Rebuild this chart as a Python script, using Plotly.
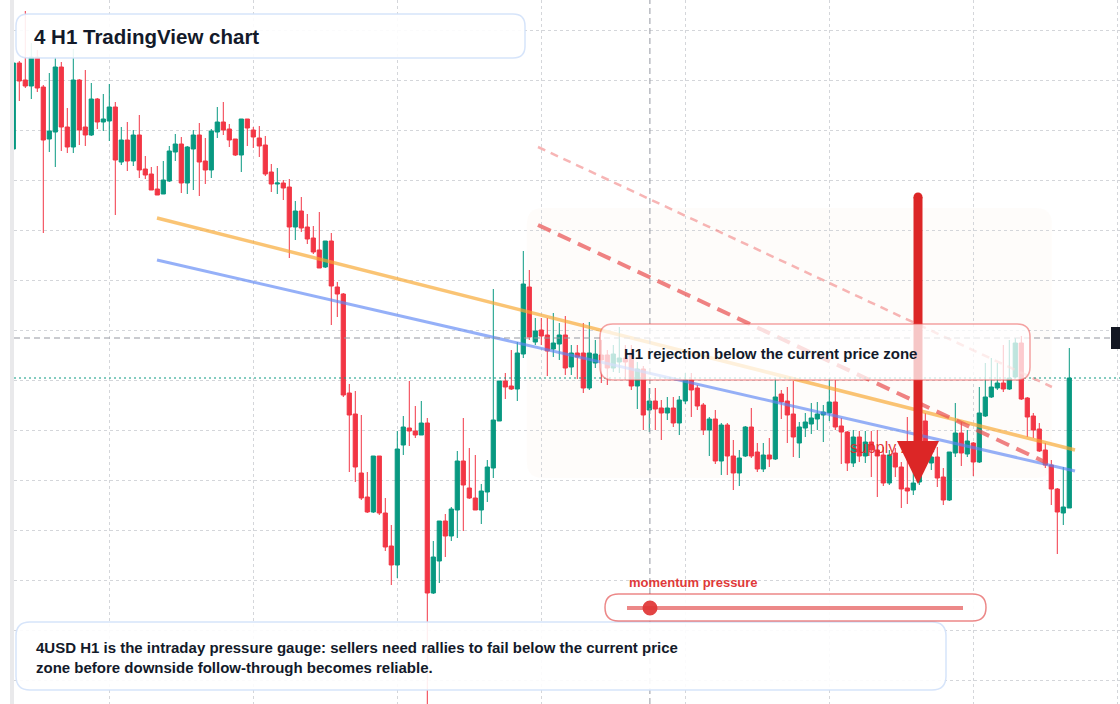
import plotly.graph_objects as go

W, H = 1120, 704
ML = 14

# ---------------- data (H1 candles, price units) ----------------
opens = [
    4046.2, 4063.4, 4060.0, 4058.8, 4064.6, 4058.6, 4048.2, 4049.6, 4062.6, 4050.6,
    4046.6, 4060.0, 4050.6, 4049.0, 4056.2, 4051.6, 4051.8, 4054.6, 4043.6, 4048.0,
    4043.8, 4049.0, 4042.2, 4041.2, 4038.2, 4037.2, 4039.8, 4045.6, 4047.2, 4039.4,
    4046.2, 4049.0, 4043.8, 4042.0, 4049.6, 4051.6, 4050.2, 4048.2, 4045.0, 4052.2,
    4050.0, 4048.4, 4047.0, 4041.6, 4039.2, 4039.4, 4038.6, 4030.6, 4033.8, 4030.6,
    4028.4, 4026.0, 4022.6, 4027.8, 4018.6, 4017.2, 3997.4, 3993.2, 3981.4, 3976.6,
    3973.6, 3984.8, 3973.4, 3966.8, 3963.0, 3987.0, 3990.4, 3989.8, 3989.0, 3991.4,
    3957.4, 3963.8, 3971.8, 3968.8, 3974.0, 3983.8, 3978.4, 3976.4, 3974.0, 3977.6,
    3982.4, 3991.8, 3999.8, 3998.8, 3998.2, 4005.2, 4018.6, 4007.6, 4010.0, 4009.0,
    4006.2, 4007.2, 4009.0, 4002.6, 4005.4, 4005.4, 3998.4, 4003.4, 4005.0, 4005.0,
    4002.4, 4003.6, 4004.4, 4005.4, 3998.8, 4002.2, 3994.0, 3995.8, 3994.4, 3993.4,
    3994.4, 3991.4, 3995.8, 4000.0, 3998.4, 3995.0, 3990.0, 3992.2, 3983.8, 3991.0,
    3984.8, 3981.4, 3984.8, 3990.6, 3985.6, 3982.2, 3985.0, 3984.2, 3997.2, 3995.8,
    3993.2, 3987.4, 3990.4, 3991.2, 3992.2, 3993.0, 3993.4, 3995.6, 3990.8, 3989.6,
    3983.4, 3988.6, 3984.8, 3987.6, 3986.0, 3985.0, 3979.4, 3985.4, 3982.6, 3978.4,
    3978.0, 3979.6, 3991.8, 3983.4, 3984.6, 3980.6, 3976.0, 3985.4, 3989.4, 3985.2,
    3987.4, 3983.6, 3992.8, 3996.6, 3998.4, 3999.4, 3998.2, 4000.6, 4007.4, 3996.4,
    3992.8, 3990.2, 3986.0, 3983.0, 3978.2, 3973.4, 3974.4,
]
highs = [
    4064.4, 4063.8, 4073.8, 4067.4, 4066.0, 4059.0, 4061.4, 4064.6, 4063.6, 4054.4,
    4066.2, 4060.2, 4062.0, 4059.4, 4056.4, 4057.2, 4059.2, 4055.6, 4050.6, 4051.6,
    4050.0, 4053.0, 4044.8, 4042.6, 4042.8, 4043.8, 4046.8, 4049.2, 4048.6, 4046.8,
    4050.0, 4051.4, 4048.4, 4050.2, 4054.6, 4055.6, 4051.2, 4048.2, 4052.2, 4052.2,
    4050.6, 4050.8, 4048.8, 4043.2, 4042.4, 4040.0, 4040.2, 4035.8, 4036.6, 4033.2,
    4030.8, 4033.6, 4027.8, 4029.4, 4019.6, 4017.4, 3999.2, 3997.8, 3993.0, 3981.6,
    3984.8, 3984.8, 3976.4, 3971.0, 3989.8, 3992.8, 3999.8, 3994.8, 3995.8, 3992.4,
    3967.8, 3971.8, 3973.2, 3974.6, 3985.8, 3992.4, 3986.4, 3985.0, 3979.2, 3984.0,
    4018.2, 3999.8, 4001.4, 4006.0, 4007.6, 4025.8, 4022.0, 4012.4, 4012.4, 4012.4,
    4013.4, 4011.4, 4012.8, 4007.0, 4007.0, 4011.4, 4011.6, 4008.0, 4008.0, 4006.0,
    4007.0, 4010.6, 4007.0, 4007.0, 4003.6, 4002.8, 3998.4, 3998.4, 3996.0, 3996.6,
    3996.6, 3996.8, 4001.4, 4001.4, 3999.0, 3995.4, 3992.6, 3994.0, 3991.4, 3991.4,
    3988.0, 3986.0, 3990.8, 3994.4, 3987.4, 3987.4, 3988.4, 4000.4, 3998.0, 3998.6,
    3999.8, 3991.6, 3993.4, 3995.4, 3995.6, 3995.0, 4000.4, 4000.0, 3992.4, 3989.8,
    3990.0, 3989.8, 3989.8, 3989.8, 3990.0, 3986.6, 3986.0, 3986.4, 3983.6, 3992.6,
    3982.0, 3984.0, 3993.4, 3985.6, 3986.6, 3982.4, 3985.6, 3995.4, 3991.6, 3990.0,
    3987.6, 3998.6, 4003.4, 4004.4, 4003.4, 4007.0, 4008.0, 4008.4, 4008.8, 3996.6,
    3993.4, 3991.4, 3987.4, 3984.0, 3978.4, 3982.6, 4006.4,
]
lows = [
    4046.0, 4055.8, 4058.4, 4056.2, 4057.6, 4029.4, 4045.6, 4042.6, 4045.8, 4045.4,
    4045.4, 4047.0, 4046.8, 4048.8, 4050.2, 4049.8, 4047.8, 4033.0, 4043.0, 4041.8,
    4042.8, 4040.4, 4040.2, 4038.0, 4037.0, 4037.2, 4039.6, 4043.8, 4037.4, 4037.2,
    4038.0, 4036.8, 4039.2, 4040.4, 4048.4, 4049.0, 4046.6, 4044.8, 4041.6, 4046.8,
    4046.4, 4044.6, 4040.8, 4037.6, 4037.2, 4036.0, 4024.4, 4028.0, 4029.6, 4027.2,
    4025.2, 4022.4, 4022.4, 4011.0, 4012.6, 3996.6, 3981.6, 3979.6, 3976.0, 3973.4,
    3973.4, 3973.0, 3965.8, 3959.0, 3960.4, 3985.0, 3986.8, 3988.4, 3989.0, 3933.0,
    3957.2, 3959.4, 3964.6, 3967.8, 3968.4, 3969.8, 3976.2, 3974.0, 3971.2, 3975.6,
    3980.4, 3991.8, 3996.2, 3998.0, 3995.8, 4004.4, 4008.0, 4007.0, 4007.0, 4000.8,
    4004.6, 4004.0, 4001.0, 4001.0, 4000.2, 3997.4, 3998.0, 4002.4, 3999.4, 3999.0,
    4001.6, 4001.4, 4000.0, 3998.0, 3994.2, 3990.0, 3989.6, 3990.0, 3988.0, 3992.0,
    3990.6, 3989.0, 3995.2, 3992.6, 3994.0, 3989.0, 3984.8, 3983.2, 3981.0, 3981.0,
    3978.0, 3978.8, 3984.6, 3984.4, 3981.6, 3981.6, 3982.6, 3984.0, 3992.2, 3987.4,
    3984.6, 3984.4, 3988.6, 3989.2, 3990.0, 3987.6, 3991.8, 3990.0, 3983.2, 3981.8,
    3982.6, 3983.6, 3983.4, 3980.6, 3976.6, 3978.8, 3979.0, 3980.6, 3974.4, 3975.2,
    3977.0, 3979.0, 3985.6, 3982.0, 3978.6, 3975.0, 3975.8, 3984.6, 3982.8, 3984.6,
    3980.8, 3983.4, 3992.6, 3996.4, 3998.0, 3997.6, 3998.0, 4000.4, 3996.0, 3988.6,
    3988.4, 3985.6, 3982.4, 3975.0, 3965.2, 3971.0, 3974.4,
]
closes = [
    4063.4, 4059.8, 4058.8, 4064.6, 4058.4, 4048.0, 4049.8, 4062.6, 4050.6, 4046.6,
    4060.0, 4050.0, 4049.0, 4056.2, 4051.6, 4052.2, 4054.6, 4044.0, 4048.0, 4043.8,
    4049.0, 4042.0, 4041.0, 4038.0, 4037.0, 4040.0, 4045.8, 4047.2, 4039.4, 4046.6,
    4049.0, 4043.6, 4042.0, 4049.8, 4051.6, 4050.0, 4048.0, 4045.0, 4052.2, 4050.4,
    4048.6, 4046.8, 4041.2, 4039.2, 4039.4, 4038.4, 4030.6, 4033.8, 4030.4, 4028.2,
    4025.6, 4022.4, 4027.8, 4018.8, 4017.2, 3997.0, 3993.0, 3982.6, 3976.4, 3973.6,
    3984.8, 3973.4, 3966.6, 3963.0, 3986.2, 3990.6, 3989.8, 3989.0, 3991.4, 3957.4,
    3964.6, 3971.8, 3968.8, 3974.2, 3983.8, 3979.0, 3976.4, 3974.0, 3977.8, 3982.6,
    3992.0, 3999.8, 3998.6, 3998.2, 4005.4, 4019.2, 4008.6, 4009.8, 4008.8, 4005.8,
    4007.4, 4009.0, 4002.4, 4005.4, 4004.6, 3998.4, 4005.4, 4005.2, 4004.0, 4002.4,
    4005.2, 4004.4, 4003.6, 3998.8, 4002.2, 3993.0, 3995.8, 3994.2, 3993.4, 3994.4,
    3991.4, 3996.0, 4000.0, 3998.0, 3994.8, 3990.0, 3992.2, 3983.8, 3991.0, 3984.8,
    3981.4, 3984.4, 3990.6, 3984.8, 3982.2, 3985.0, 3984.2, 3996.6, 3995.6, 3993.0,
    3988.6, 3990.6, 3991.6, 3992.4, 3993.2, 3993.6, 3995.6, 3990.6, 3989.6, 3983.4,
    3988.6, 3984.8, 3987.6, 3986.0, 3984.8, 3979.4, 3985.0, 3982.6, 3978.2, 3977.8,
    3979.4, 3982.0, 3987.6, 3984.6, 3980.4, 3976.0, 3985.6, 3989.4, 3985.4, 3987.8,
    3983.6, 3993.4, 3996.6, 3998.6, 3999.4, 3998.2, 4000.4, 4007.4, 3996.2, 3992.6,
    3990.0, 3985.8, 3983.0, 3978.2, 3973.6, 3974.6, 4000.4,
]
bars = list(range(len(opens)))

price_ticks = [3940, 3950, 3960, 3970, 3980, 3990, 4000, 4010, 4020, 4030, 4040, 4050, 4060, 4070]
time_ticks = [16, 40, 64, 88, 112, 136, 160, 184]

# drawn trend lines (bar index, price)
upper_trend_x = [23.95, 176.95]
upper_trend_y = [4032.4, 3986.0]
lower_trend_x = [23.95, 176.95]
lower_trend_y = [4024.0, 3981.8]
res_main_x = [87.45, 172.3]
res_main_y = [4031.0, 3983.4]
res_outer_x = [87.45, 173.1]
res_outer_y = [4046.6, 3998.6]
supply_x = [85.6, 173.1]
supply_y = [3980.4, 4034.4]
crosshair_bar = 106.1
crosshair_price = 4008.4
last_price = closes[-1]

X_RANGE = [0.117, 184.45]
Y_RANGE = [3935.2, 4076.0]

FONT = "Liberation Sans, Arial, sans-serif"
GREEN = "#089981"
RED = "#F23645"


# ---------------- helpers ----------------
def xpix(i):
    return ML + (i - X_RANGE[0]) / (X_RANGE[1] - X_RANGE[0]) * (W - ML)


def ypix(p):
    return (Y_RANGE[1] - p) / (Y_RANGE[1] - Y_RANGE[0]) * H


def xi_from_pix(x):
    return X_RANGE[0] + (x - ML) / (W - ML) * (X_RANGE[1] - X_RANGE[0])


def p_from_pix(y):
    return Y_RANGE[1] - y / H * (Y_RANGE[1] - Y_RANGE[0])


def PX(x):
    return (x - ML) / (W - ML)


def PY(y):
    return 1 - y / H


def rrect(x0, y0, x1, y1, r):
    return (f"M {PX(x0 + r)},{PY(y0)} L {PX(x1 - r)},{PY(y0)} "
            f"Q {PX(x1)},{PY(y0)} {PX(x1)},{PY(y0 + r)} L {PX(x1)},{PY(y1 - r)} "
            f"Q {PX(x1)},{PY(y1)} {PX(x1 - r)},{PY(y1)} L {PX(x0 + r)},{PY(y1)} "
            f"Q {PX(x0)},{PY(y1)} {PX(x0)},{PY(y1 - r)} L {PX(x0)},{PY(y0 + r)} "
            f"Q {PX(x0)},{PY(y0)} {PX(x0 + r)},{PY(y0)} Z")


def pshape(path, fill, line_color, line_width, layer="above"):
    return dict(type="path", xref="paper", yref="paper", path=path, fillcolor=fill,
                line=dict(color=line_color, width=line_width), layer=layer)


fig = go.Figure()

fig.add_trace(go.Candlestick(
    x=bars, open=opens, high=highs, low=lows, close=closes,
    increasing=dict(line=dict(color=GREEN, width=1), fillcolor=GREEN),
    decreasing=dict(line=dict(color=RED, width=1), fillcolor=RED),
    whiskerwidth=0, hoverinfo="skip", showlegend=False,
))

# trend / resistance drawings
fig.add_trace(go.Scatter(x=upper_trend_x, y=upper_trend_y, mode="lines",
                         line=dict(color="rgba(247,168,50,0.68)", width=3.5),
                         hoverinfo="skip", showlegend=False))
fig.add_trace(go.Scatter(x=lower_trend_x, y=lower_trend_y, mode="lines",
                         line=dict(color="rgba(92,134,245,0.65)", width=3),
                         hoverinfo="skip", showlegend=False))
fig.add_trace(go.Scatter(x=res_main_x, y=res_main_y, mode="lines",
                         line=dict(color="rgba(232,78,78,0.7)", width=4, dash="14px,8px"),
                         hoverinfo="skip", showlegend=False))
fig.add_trace(go.Scatter(x=res_outer_x, y=res_outer_y, mode="lines",
                         line=dict(color="rgba(240,120,120,0.55)", width=2.5, dash="8px,6px"),
                         hoverinfo="skip", showlegend=False))
# supply zone label (under the arrow head)
fig.add_trace(go.Scatter(x=[xi_from_pix(850)], y=[p_from_pix(449)], mode="text",
                         text=["supply zone"], textposition="middle right",
                         textfont=dict(family=FONT, size=16, color="rgba(224,40,40,0.92)"),
                         hoverinfo="skip", showlegend=False))

shapes = []
# supply zone fill
zx0, zx1 = xpix(supply_x[0]), xpix(supply_x[1])
zy0, zy1 = ypix(supply_y[1]), ypix(supply_y[0])
shapes.append(pshape(rrect(zx0, zy0, zx1, zy1, 16), "rgba(245,215,195,0.08)",
                     "rgba(0,0,0,0)", 0, layer="below"))
# left strip
shapes.append(dict(type="rect", xref="paper", yref="paper", x0=PX(10), x1=PX(14), y0=0, y1=1,
                   fillcolor="#e9e9eb", line=dict(width=0), layer="above"))
# crosshair
shapes.append(dict(type="line", xref="paper", yref="y", x0=0, x1=1,
                   y0=crosshair_price, y1=crosshair_price,
                   line=dict(color="#9598a1", width=1, dash="6px,4px"), layer="above"))
shapes.append(dict(type="line", xref="x", yref="paper", x0=crosshair_bar, x1=crosshair_bar,
                   y0=0, y1=1, line=dict(color="#9598a1", width=1, dash="6px,4px"), layer="above"))
# last price line
shapes.append(dict(type="line", xref="paper", yref="y", x0=0, x1=1, y0=last_price, y1=last_price,
                   line=dict(color=GREEN, width=1, dash="2px,3px"), layer="above"))
# red arrow
shapes.append(dict(type="line", xref="paper", yref="paper", x0=PX(918), x1=PX(918),
                   y0=PY(197), y1=PY(444), line=dict(color="#dc2626", width=9), layer="above"))
shapes.append(dict(type="circle", xref="paper", yref="paper", x0=PX(913.5), x1=PX(922.5),
                   y0=PY(192.5), y1=PY(201.5), fillcolor="#dc2626", line=dict(width=0),
                   layer="above"))
shapes.append(pshape(f"M {PX(897)},{PY(441)} L {PX(939)},{PY(441)} L {PX(918)},{PY(484)} Z",
                     "#dc2626", "#dc2626", 0))
# rejection box
shapes.append(pshape(rrect(600, 324, 1030, 380, 13), "rgba(255,255,255,0.74)",
                     "rgba(236,72,72,0.5)", 1.5))
# title box
shapes.append(pshape(rrect(16, 14, 525, 58, 12), "rgba(255,255,255,0.9)",
                     "rgba(210,225,250,0.9)", 1.5))
# bottom text box
shapes.append(pshape(rrect(16, 622, 946, 690, 14), "rgba(255,255,255,0.9)",
                     "rgba(210,225,250,0.9)", 1.5))
# momentum slider
shapes.append(pshape(rrect(605, 594, 986, 621, 13.5), "rgba(255,255,255,0.92)",
                     "rgba(220,38,38,0.55)", 1.5))
shapes.append(dict(type="line", xref="paper", yref="paper", x0=PX(627), x1=PX(963),
                   y0=PY(608), y1=PY(608), line=dict(color="rgba(220,38,38,0.55)", width=4),
                   layer="above"))
shapes.append(dict(type="circle", xref="paper", yref="paper", x0=PX(642.5), x1=PX(657.5),
                   y0=PY(600.5), y1=PY(615.5), fillcolor="rgba(224,52,52,0.92)",
                   line=dict(width=0), layer="above"))
# crosshair price label stub on the right edge
shapes.append(dict(type="rect", xref="paper", yref="paper", x0=PX(1111), x1=PX(1124),
                   y0=PY(349), y1=PY(327), fillcolor="#131722", line=dict(width=0),
                   layer="above"))

annotations = [
    dict(xref="paper", yref="paper", x=PX(32), y=PY(36), xanchor="left", yanchor="middle",
         text="<b>4 H1 TradingView chart</b>", showarrow=False,
         font=dict(family=FONT, size=20.5, color="#131a2a")),
    dict(xref="paper", yref="paper", x=PX(622), y=PY(353), xanchor="left", yanchor="middle",
         text="<b>H1 rejection below the current price zone</b>", showarrow=False,
         font=dict(family=FONT, size=15, color="#131a2a")),
    dict(xref="paper", yref="paper", x=PX(34), y=PY(657), xanchor="left", yanchor="middle",
         align="left",
         text="<b>4USD H1 is the intraday pressure gauge: sellers need rallies to fail below the current price"
              "<br>zone before downside follow-through becomes reliable.</b>",
         showarrow=False, font=dict(family=FONT, size=15, color="#131a2a")),
    dict(xref="paper", yref="paper", x=PX(627), y=PY(582), xanchor="left", yanchor="middle",
         text="<b>momentum pressure</b>", showarrow=False,
         font=dict(family=FONT, size=13, color="#e03a3a")),
]

fig.update_layout(
    width=W, height=H,
    margin=dict(l=ML, r=0, t=0, b=0, pad=0),
    paper_bgcolor="white", plot_bgcolor="white",
    boxgap=0.3, boxgroupgap=0,
    showlegend=False,
    shapes=shapes,
    annotations=annotations,
    hovermode=False,
    xaxis=dict(range=X_RANGE, showgrid=True, gridcolor="#d4d6da", griddash="dot", gridwidth=1,
               tickvals=time_ticks, showticklabels=False, zeroline=False, showline=False,
               ticks="", rangeslider=dict(visible=False), fixedrange=True),
    yaxis=dict(range=Y_RANGE, showgrid=True, gridcolor="#d4d6da", griddash="dot", gridwidth=1,
               tickvals=price_ticks, showticklabels=False, zeroline=False, showline=False,
               ticks="", fixedrange=True),
)

fig.write_html("out.html", config={"displayModeBar": False})
